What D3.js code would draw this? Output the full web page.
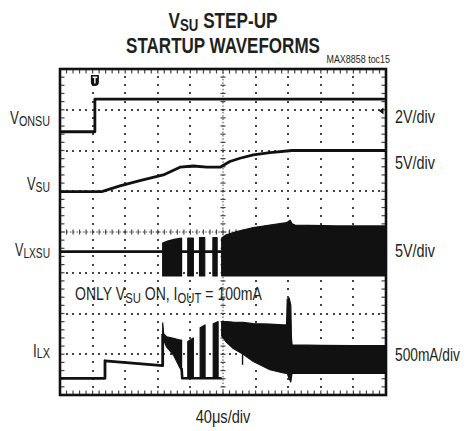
<!DOCTYPE html>
<html>
<head>
<meta charset="utf-8">
<script src="https://cdn.jsdelivr.net/npm/d3@7"></script>
<style>
  html, body { margin: 0; padding: 0; background: #fff; }
  svg { display: block; }
  text { font-family: "Liberation Sans Narrow", "Arial Narrow", "Liberation Sans", Arial, sans-serif; fill: #231f20; }
</style>
</head>
<body>
<svg id="chart" width="467" height="431"></svg>
<script>
// Oscilloscope screen: 10 horizontal divisions (40us/div), 8 vertical divisions.
// All traces are given in screen divisions: [time div, level div] (level 0 = bottom edge).

// Channel 1: VONSU enable step (2V/div)
const vonsu = [[0, 6.46], [1.07, 6.46], [1.07, 7.26], [10, 7.26]];

// Channel 2: VSU output ramp (5V/div)
const vsu = [[0, 4.99], [1.28, 4.99], [1.84, 5.13], [2.45, 5.26], [3.17, 5.40], [3.68, 5.59],
             [4.09, 5.62], [4.50, 5.59], [4.91, 5.59], [5.21, 5.73], [5.52, 5.81], [5.93, 5.89],
             [6.44, 5.95], [7.11, 6.00], [10, 6.00]];

// Channel 3: VLXSU switching node (5V/div)
const vlxIdle = [[0, 3.52], [4.96, 3.52]];
const vlxLow = 2.92;
const vlxBurst1 = [[3.15, 3.73], [3.3, 3.78], [3.5, 3.82], [3.73, 3.85]];
const vlxPulses = [[3.92, 4.09, 3.85], [4.28, 4.44, 3.86], [4.69, 4.82, 3.86]];
const vlxBurst2 = [[4.96, 3.85], [5.1, 3.93], [5.42, 4.01], [5.93, 4.11], [6.44, 4.17], [6.95, 4.23],
                   [7.06, 4.29], [7.12, 4.20], [7.21, 4.17], [8.5, 4.15], [10, 4.15]];

// Channel 4: ILX inductor current (500mA/div)
const ilxLead = [[0, 0.41], [1.38, 0.41], [1.38, 0.84], [3.15, 0.72], [3.15, 1.5]];
const ilxIdle = [[3.73, 0.66], [3.75, 0.41], [4.96, 0.41]];
// bands: [time, top, bottom]
const ilxBurst1 = [[3.15, 1.77, 1.45], [3.18, 1.50, 1.35], [3.27, 1.43, 1.18], [3.48, 1.39, 0.98],
                   [3.68, 1.35, 0.66], [3.73, 1.35, 0.62]];
// pulses: [start, end, top at start, top at end]
const ilxPulses = [[3.92, 4.09, 1.31, 1.40], [4.30, 4.45, 1.65, 1.72], [4.70, 4.85, 1.75, 1.80]];
const ilxBurst2 = [[4.96, 1.80, 1.45], [5.1, 1.80, 1.30], [5.3, 1.79, 1.15], [5.62, 1.78, 1.00],
                   [5.93, 1.75, 0.82], [6.44, 1.74, 0.62], [6.85, 1.72, 0.54], [6.95, 1.72, 0.53],
                   [6.97, 2.35, 0.53], [7.03, 2.38, 0.40], [7.08, 2.20, 0.32], [7.10, 1.40, 0.45],
                   [7.12, 1.23, 0.53], [8.0, 1.22, 0.53], [9.0, 1.21, 0.53], [10, 1.21, 0.53]];
const ilxNotch = [[5.60, 1.0], [5.60, 0.74]];

// Labels
const titleLines = [[["V", false], ["SU", true], [" STEP-UP", false]], [["STARTUP WAVEFORMS", false]]];
const chartId = "MAX8858 toc15";
const leftLabels = [
  {parts: [["V", false], ["ONSU", true]], level: 6.65, width: 40},
  {parts: [["V", false], ["SU", true]], level: 5.02, width: 23},
  {parts: [["V", false], ["LXSU", true]], level: 3.40, width: 35},
  {parts: [["I", false], ["LX", true]], level: 0.94, width: 17}
];
const rightLabels = [
  {text: "2V/div", level: 6.67, width: 40},
  {text: "5V/div", level: 5.54, width: 40},
  {text: "5V/div", level: 3.38, width: 40},
  {text: "500mA/div", level: 0.84, width: 65}
];
const noteParts = [["ONLY V", false], ["SU", true], [" ON, I", false], ["OUT", true], [" = 100mA", false]];
const timeLabel = "40\u03bcs/div";

const svg = d3.select("#chart");
const x = d3.scaleLinear().domain([0, 10]).range([60, 386]);
const y = d3.scaleLinear().domain([0, 8]).range([395, 69]);

const minorX = d3.range(0, 10.0001, 0.2);
const minorY = d3.range(0, 8.0001, 0.2);
const gridInk = "#444";

// Dotted graticule: one dot per minor division along every major line
const grid = svg.append("g").attr("class", "graticule");
const vLines = x.ticks(10).filter(t => t > 0 && t < 10 && t !== 5);
const hLines = y.ticks(8).filter(t => t > 0 && t < 8 && t !== 4);
const dots = [];
vLines.forEach(t => minorY.forEach(d => dots.push([x(t), y(d)])));
hLines.forEach(t => minorX.forEach(d => dots.push([x(d), y(t)])));
grid.selectAll("rect.dot").data(dots).join("rect").attr("class", "dot")
  .attr("x", d => Math.round(d[0]) - 1).attr("y", d => Math.round(d[1]) - 1)
  .attr("width", 2).attr("height", 2).attr("fill", gridInk);

// Centre axes with minor ticks
grid.append("line").attr("x1", x(5)).attr("x2", x(5)).attr("y1", y(8)).attr("y2", y(0))
  .attr("stroke", gridInk).attr("stroke-width", 1).attr("stroke-dasharray", "1.5,1.8");
grid.append("line").attr("x1", x(0)).attr("x2", x(10)).attr("y1", y(4)).attr("y2", y(4))
  .attr("stroke", gridInk).attr("stroke-width", 1).attr("stroke-dasharray", "1.5,1.8");
const ticks = [];
minorY.forEach(d => {
  ticks.push([x(5) - 2.5, y(d), x(5) + 2.5, y(d)]);
  ticks.push([x(0), y(d), x(0) + 4.5, y(d)]);
  ticks.push([x(10) - 4.5, y(d), x(10), y(d)]);
});
minorX.forEach(d => {
  ticks.push([x(d), y(4) - 2.5, x(d), y(4) + 2.5]);
  ticks.push([x(d), y(0), x(d), y(0) - 4.5]);
  ticks.push([x(d), y(8), x(d), y(8) + 4.5]);
});
grid.selectAll("line.tick").data(ticks).join("line").attr("class", "tick")
  .attr("x1", d => d[0]).attr("y1", d => d[1]).attr("x2", d => d[2]).attr("y2", d => d[3])
  .attr("stroke", gridInk).attr("stroke-width", 1.2);

// Traces
const traces = svg.append("g");
const line = d3.line().x(d => x(d[0])).y(d => y(d[1]));
const band = d3.area().x(d => x(d[0])).y1(d => y(d[1])).y0(d => y(d[2]));
const ink = "#111";
const drawLine = (data, w) => traces.append("path").attr("d", line(data))
  .attr("fill", "none").attr("stroke", ink).attr("stroke-width", w).attr("stroke-linejoin", "round");
const drawBand = data => traces.append("path").attr("d", band(data))
  .attr("fill", ink).attr("stroke", ink).attr("stroke-width", 1.2).attr("stroke-linejoin", "round");

drawLine(vonsu, 2.8);
drawLine(vsu, 2.8);

drawLine(vlxIdle, 2.8);
drawBand(vlxBurst1.map(d => [d[0], d[1], vlxLow]));
vlxPulses.forEach(p => drawBand([[p[0], p[2], vlxLow], [p[1], p[2], vlxLow]]));
drawBand(vlxBurst2.map(d => [d[0], d[1], vlxLow]));

drawLine(ilxLead, 2.8);
drawLine(ilxIdle, 2.6);
drawBand(ilxBurst1);
ilxPulses.forEach(p => drawBand([[p[0], p[2], 0.41], [p[1], p[3], 0.41]]));
drawBand(ilxBurst2);
drawLine(ilxNotch, 1.4);

// Frame
svg.append("rect").attr("x", x(0)).attr("y", y(8)).attr("width", x(10) - x(0)).attr("height", y(0) - y(8))
  .attr("fill", "none").attr("stroke", "#111").attr("stroke-width", 2.6);

// Trigger marker and channel reference arrow
const trig = svg.append("g").attr("transform", `translate(${x(1.07)},${y(8) + 6})`);
trig.append("path").attr("d", "M-4,0 H4 V7 Q4,11 0,11 Q-4,11 -4,7 Z").attr("fill", "#111");
trig.append("path").attr("d", "M-2.3,2.2 H2.3 M0,2.2 V8.5").attr("stroke", "#fff").attr("stroke-width", 1.4);
svg.append("path")
  .attr("d", `M${x(10) - 7},${y(6.97)} L${x(10) - 2.5},${y(6.97) - 3.5} L${x(10) - 2.5},${y(6.97) + 3.5} Z`)
  .attr("fill", "#111");

// Text helpers: build text at the origin, then squeeze it horizontally to the condensed width
function richText(sel, parts, size, subSize, subShift) {
  parts.forEach(([t, sub], i) => {
    const ts = sel.append("tspan").text(t).attr("font-size", sub ? subSize : size);
    if (sub) ts.attr("dy", subShift);
    else if (i > 0 && parts[i - 1][1]) ts.attr("dy", -subShift);
  });
  return sel;
}
function place(sel, px, py, width) {
  const w = sel.node().getBBox().width;
  sel.attr("transform", `translate(${px},${py}) scale(${width / w},1)`);
  return sel;
}

// Title
const titleY = [28, 53];
titleLines.forEach((parts, i) => {
  const t = svg.append("text").attr("text-anchor", "middle").attr("font-weight", "bold");
  richText(t, parts, 22, 17, 3);
  place(t, x(5), titleY[i], i === 0 ? 109 : 194);
});
place(svg.append("text").attr("text-anchor", "end").attr("font-size", 10).text(chartId), 390, 63, 64);

// Channel names
leftLabels.forEach(l => {
  const t = svg.append("text").attr("text-anchor", "end");
  richText(t, l.parts, 18.5, 15, 1.5);
  place(t, 50, y(l.level), l.width);
});
// Channel scales
rightLabels.forEach(l => {
  place(svg.append("text").attr("font-size", 18).text(l.text), 395, y(l.level), l.width);
});

// Condition note
const note = svg.append("text");
richText(note, noteParts, 18, 14.5, 2.5);
place(note, 75, 300, 187);

// Time base
place(svg.append("text").attr("text-anchor", "middle").attr("font-size", 17.5).text(timeLabel), x(5), 423, 55);
</script>
</body>
</html>
